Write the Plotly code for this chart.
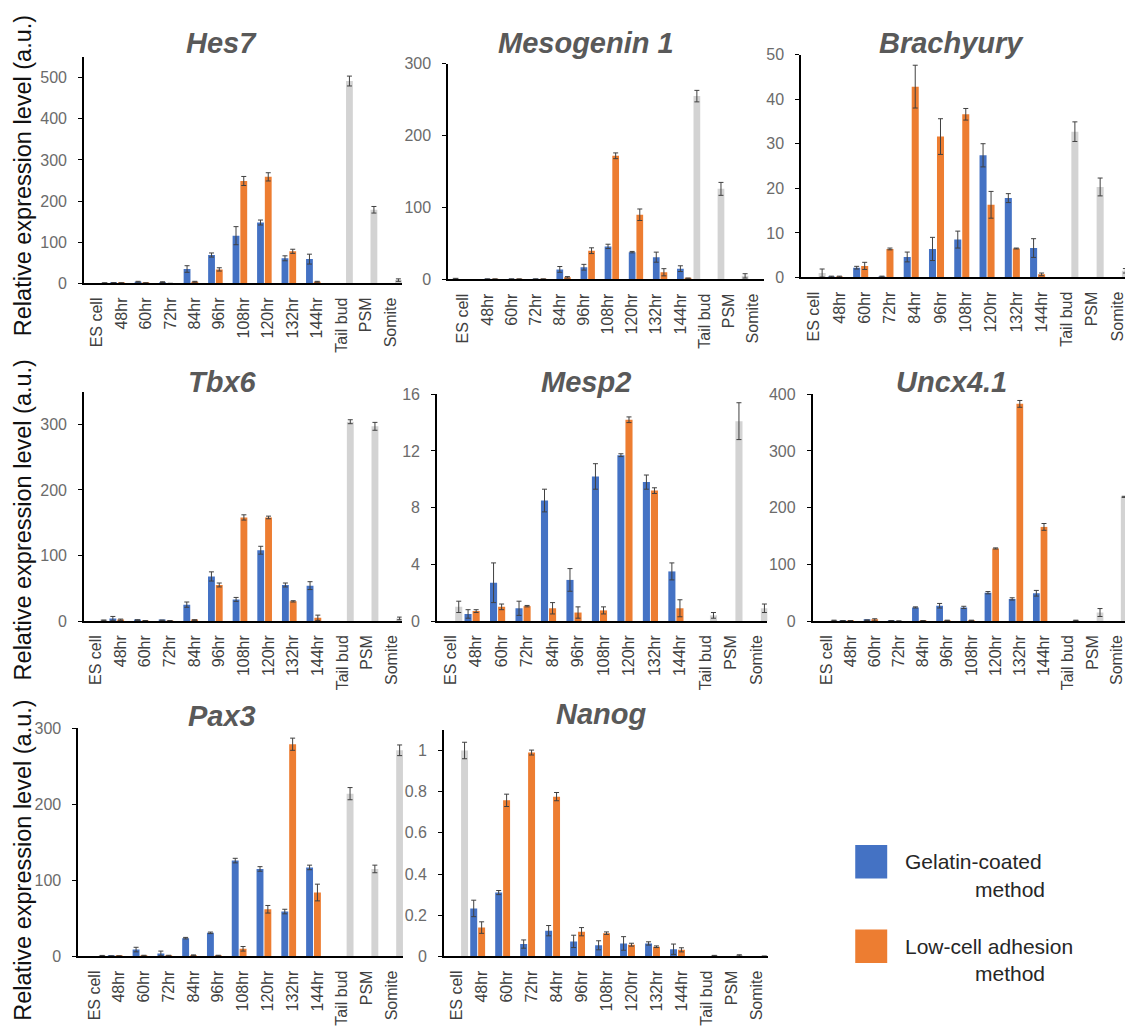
import plotly.graph_objects as go

W, H = 1126, 1032

categories = ["ES cell", "48hr", "60hr", "72hr", "84hr", "96hr", "108hr", "120hr",
              "132hr", "144hr", "Tail bud", "PSM", "Somite"]
N = None

# ---------------- data (gelatin-coated / low-cell adhesion / reference tissue) ----------------
hes7_gel = [N, 1, 4, 3, 35, 69, 116, 148, 61, 59, N, N, N]
hes7_gel_err = [0, 1, 1, 1, 8, 5, 22, 6, 6, 12, 0, 0, 0]
hes7_low = [N, 1, 1, 0, 4, 34, 249, 259, 78, 4, N, N, N]
hes7_low_err = [0, 0.5, 0.5, 0, 1, 4, 11, 10, 5, 1, 0, 0, 0]
hes7_ref = [1, N, N, N, N, N, N, N, N, N, 492, 179, 8]
hes7_ref_err = [0.3, 0, 0, 0, 0, 0, 0, 0, 0, 0, 12, 8, 3]

mesog_gel = [N, 0.5, 0.5, 0.5, 14, 17, 46, 38, 31, 15, N, N, N]
mesog_gel_err = [0, 0.3, 0.3, 0.3, 4, 4, 3, 1, 7, 4, 0, 0, 0]
mesog_low = [N, 0.5, 0.5, 0.5, 3, 40, 172, 90, 10, 1.5, N, N, N]
mesog_low_err = [0, 0.3, 0.3, 0.3, 1, 4, 4, 8, 5, 0.5, 0, 0, 0]
mesog_ref = [1, N, N, N, N, N, N, N, N, N, 255, 126, 5]
mesog_ref_err = [0.5, 0, 0, 0, 0, 0, 0, 0, 0, 0, 8, 9, 3]

brach_gel = [N, 0.2, 2.2, 0.2, 4.6, 6.4, 8.5, 27.4, 17.8, 6.6, N, N, N]
brach_gel_err = [0, 0.1, 0.3, 0.1, 1.1, 2.6, 1.9, 2.6, 1.0, 2.1, 0, 0, 0]
brach_low = [N, 0.2, 2.6, 6.4, 42.8, 31.6, 36.6, 16.3, 6.5, 0.7, N, N, N]
brach_low_err = [0, 0.1, 0.8, 0.2, 4.8, 4.0, 1.3, 3.0, 0.1, 0.3, 0, 0, 0]
brach_ref = [1.0, N, N, N, N, N, N, N, N, N, 32.7, 20.3, 1.5]
brach_ref_err = [0.9, 0, 0, 0, 0, 0, 0, 0, 0, 0, 2.2, 2.0, 0.5]

tbx6_gel = [N, 4, 1.5, 1, 25, 68, 33, 108, 55, 54, N, N, N]
tbx6_gel_err = [0, 3, 0.5, 0.5, 4, 7, 3, 6, 3, 6, 0, 0, 0]
tbx6_low = [N, 2, 0.5, 0.5, 1.5, 55, 158, 158, 30, 5, N, N, N]
tbx6_low_err = [0, 1, 0.3, 0.3, 0.5, 3, 4, 2, 1, 4, 0, 0, 0]
tbx6_ref = [1, N, N, N, N, N, N, N, N, N, 304, 297, 4]
tbx6_ref_err = [0.5, 0, 0, 0, 0, 0, 0, 0, 0, 0, 3, 6, 2]

mesp2_gel = [N, 0.5, 2.7, 0.9, 8.5, 2.9, 10.2, 11.7, 9.8, 3.5, N, N, N]
mesp2_gel_err = [0, 0.3, 1.4, 0.5, 0.8, 0.8, 0.9, 0.1, 0.5, 0.6, 0, 0, 0]
mesp2_low = [N, 0.7, 1.0, 1.05, 0.9, 0.6, 0.75, 14.2, 9.2, 0.9, N, N, N]
mesp2_low_err = [0, 0.1, 0.2, 0.05, 0.4, 0.4, 0.25, 0.2, 0.2, 0.6, 0, 0, 0]
mesp2_ref = [1.0, N, N, N, N, N, N, N, N, N, 0.4, 14.1, 0.9]
mesp2_ref_err = [0.4, 0, 0, 0, 0, 0, 0, 0, 0, 0, 0.2, 1.3, 0.3]

uncx_gel = [N, 0.5, 1.5, 0.5, 24, 27, 24, 50, 39, 49, N, N, N]
uncx_gel_err = [0, 0.3, 0.5, 0.3, 1, 4, 2, 2, 2, 5, 0, 0, 0]
uncx_low = [N, 0.5, 2, 0, 0.5, 1, 1, 128, 383, 166, N, N, N]
uncx_low_err = [0, 0.3, 2, 0, 0.3, 0.5, 0.5, 1, 6, 6, 0, 0, 0]
uncx_ref = [1, N, N, N, N, N, N, N, N, N, 1, 15, 219]
uncx_ref_err = [0.5, 0, 0, 0, 0, 0, 0, 0, 0, 0, 0.5, 7, 1]

pax3_gel = [N, 0.5, 9, 4, 24, 31, 126, 115, 59, 117, N, N, N]
pax3_gel_err = [0, 0.3, 3, 3, 1, 1, 3, 3, 3, 3, 0, 0, 0]
pax3_low = [N, 0.5, 1, 1, 1.5, 1, 10, 62, 279, 84, N, N, N]
pax3_low_err = [0, 0.3, 0.5, 0.5, 0.5, 0.5, 3, 5, 8, 11, 0, 0, 0]
pax3_ref = [1, N, N, N, N, N, N, N, N, N, 214, 115, 271]
pax3_ref_err = [0.3, 0, 0, 0, 0, 0, 0, 0, 0, 0, 8, 5, 7]

nanog_gel = [N, 0.233, 0.31, 0.06, 0.125, 0.073, 0.054, 0.063, 0.063, 0.035, N, N, N]
nanog_gel_err = [0, 0.04, 0.01, 0.02, 0.025, 0.03, 0.022, 0.033, 0.008, 0.025, 0, 0, 0]
nanog_low = [N, 0.14, 0.758, 0.99, 0.776, 0.12, 0.113, 0.057, 0.047, 0.032, N, N, N]
nanog_low_err = [0, 0.028, 0.03, 0.012, 0.02, 0.02, 0.006, 0.007, 0.004, 0.01, 0, 0, 0]
nanog_ref = [1.0, N, N, N, N, N, N, N, N, N, 0.003, 0.005, 0.001]
nanog_ref_err = [0.04, 0, 0, 0, 0, 0, 0, 0, 0, 0, 0.002, 0.003, 0.001]

titles = ["Hes7", "Mesogenin 1", "Brachyury", "Tbx6", "Mesp2", "Uncx4.1", "Pax3", "Nanog"]
ytitle = "Relative expression level (a.u.)"
legend_labels = [("Gelatin-coated", "method"), ("Low-cell adhesion", "method")]

series = [
    (hes7_gel, hes7_gel_err, hes7_low, hes7_low_err, hes7_ref, hes7_ref_err),
    (mesog_gel, mesog_gel_err, mesog_low, mesog_low_err, mesog_ref, mesog_ref_err),
    (brach_gel, brach_gel_err, brach_low, brach_low_err, brach_ref, brach_ref_err),
    (tbx6_gel, tbx6_gel_err, tbx6_low, tbx6_low_err, tbx6_ref, tbx6_ref_err),
    (mesp2_gel, mesp2_gel_err, mesp2_low, mesp2_low_err, mesp2_ref, mesp2_ref_err),
    (uncx_gel, uncx_gel_err, uncx_low, uncx_low_err, uncx_ref, uncx_ref_err),
    (pax3_gel, pax3_gel_err, pax3_low, pax3_low_err, pax3_ref, pax3_ref_err),
    (nanog_gel, nanog_gel_err, nanog_low, nanog_low_err, nanog_ref, nanog_ref_err),
]

# ---------------- geometry (pixels) ----------------
geom = [
    dict(x0=84, x1=402.5, yb=280, yt=50, xr=[-0.53, 12.47], yr=[0, 550], dt=100, order="gor", tx=222, ty=36),
    dict(x0=448.5, x1=765, yb=276, yt=56.7, xr=[-0.63, 12.48], yr=[0, 300], dt=100, order="rgo", tx=587, ty=36),
    dict(x0=801.7, x1=1126, yb=274, yt=47.3, xr=[-0.52, 12.3], yr=[0, 50], dt=10, order="gor", tx=952, ty=36),
    dict(x0=84, x1=402, yb=623.3, yt=390, xr=[-0.49, 12.4], yr=[0, 350], dt=100, order="gor", tx=223, ty=380),
    dict(x0=437.3, x1=768, yb=623.3, yt=392.7, xr=[-0.54, 12.43], yr=[0, 16], dt=4, order="gor", tx=587, ty=380),
    dict(x0=813.3, x1=1126, yb=623.3, yt=392.7, xr=[-0.57, 12.35], yr=[0, 400], dt=100, order="gor", tx=952, ty=380),
    dict(x0=78.3, x1=403.3, yb=964.3, yt=732.3, xr=[-0.65, 12.45], yr=[0, 300], dt=100, order="gor", tx=222, ty=720),
    dict(x0=444.3, x1=768.3, yb=964.3, yt=734, xr=[-0.51, 12.45], yr=[0, 1.1], dt=0.2, order="gor", tx=602, ty=718),
]

BLUE, ORANGE, GREY = "#4472C4", "#ED7D31", "#D3D3D3"
FONT = "Arial, Liberation Sans, sans-serif"

fig = go.Figure()
layout = {}
annotations = []

for i, (g, s) in enumerate(zip(geom, series)):
    n = i + 1
    sfx = "" if n == 1 else str(n)
    gel, gel_e, low, low_e, ref, ref_e = s
    traces = {
        "g": (gel, gel_e, BLUE),
        "o": (low, low_e, ORANGE),
        "r": (ref, ref_e, GREY),
    }
    for key in g["order"]:
        vals, errs, col = traces[key]
        fig.add_trace(go.Bar(
            x=categories, y=vals, marker=dict(color=col, line=dict(width=0)),
            error_y=dict(type="data", array=errs, color="#404040", thickness=1, width=2.5),
            xaxis="x" + sfx, yaxis="y" + sfx, showlegend=False,
        ))
    layout["xaxis" + sfx] = dict(
        domain=[g["x0"] / W, g["x1"] / W], anchor="y" + sfx,
        type="category", categoryorder="array", categoryarray=categories,
        range=g["xr"], showline=True, linecolor="#000000", linewidth=1.5,
        ticks="", tickangle=-90, tickfont=dict(size=16, color="#404040", family=FONT),
        showgrid=False, zeroline=False, ticklabelstandoff=6, fixedrange=True,
    )
    layout["yaxis" + sfx] = dict(
        domain=[1 - g["yb"] / H, 1 - g["yt"] / H], anchor="x" + sfx,
        range=g["yr"], dtick=g["dt"], tick0=0, showline=True, linecolor="#000000", linewidth=1.5,
        ticks="outside", ticklen=4, tickcolor="#000000", tickwidth=1,
        tickfont=dict(size=16, color="#6b6b6b", family=FONT),
        showgrid=False, zeroline=False, ticklabelstandoff=8, fixedrange=True,
    )
    annotations.append(dict(
        text="<b><i>" + titles[i] + "</i></b>", x=g["tx"] / W, y=1 - g["ty"] / H,
        xref="paper", yref="paper", xanchor="center", yanchor="middle", showarrow=False,
        font=dict(size=29, color="#595959", family=FONT),
    ))

for yc in (170, 520, 866):
    annotations.append(dict(
        text=ytitle, x=23 / W, y=1 - yc / H, xref="paper", yref="paper",
        xanchor="center", yanchor="middle", textangle=-90, showarrow=False,
        font=dict(size=23.5, color="#111111", family=FONT),
    ))

# legend
shapes = []
for (l1, l2), col, ytop in zip(legend_labels, (BLUE, ORANGE), (851, 937)):
    shapes.append(dict(type="rect", xref="paper", yref="paper",
                       x0=856 / W, x1=888 / W, y0=1 - (ytop + 34) / H, y1=1 - ytop / H,
                       fillcolor=col, line=dict(width=0)))
    annotations.append(dict(text=l1, x=904 / W, y=1 - (ytop + 17) / H, xref="paper", yref="paper",
                            xanchor="left", yanchor="middle", showarrow=False,
                            font=dict(size=21, color="#262626", family=FONT)))
    annotations.append(dict(text=l2, x=1048 / W, y=1 - (ytop + 45) / H, xref="paper", yref="paper",
                            xanchor="right", yanchor="middle", showarrow=False,
                            font=dict(size=21, color="#262626", family=FONT)))

fig.update_layout(
    width=W, height=H, margin=dict(l=0, r=0, t=0, b=0),
    paper_bgcolor="white", plot_bgcolor="rgba(0,0,0,0)",
    barmode="group", bargap=0.05, bargroupgap=0.12,
    font=dict(family=FONT), annotations=annotations, shapes=shapes, showlegend=False,
    **layout,
)

fig.write_html("out.html", config={"displayModeBar": False},
               post_script="document.body.style.margin='0';document.body.style.overflow='hidden';")
